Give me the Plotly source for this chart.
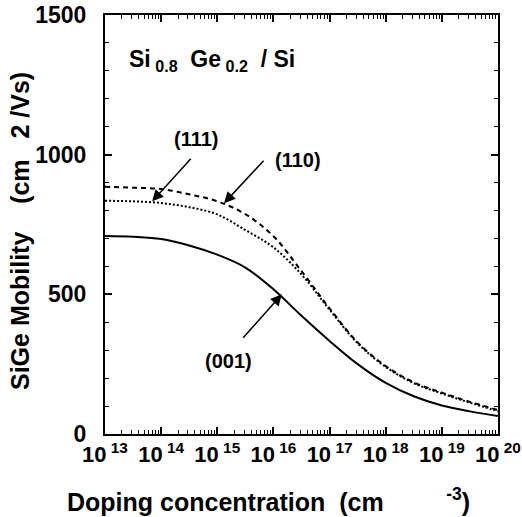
import plotly.graph_objects as go

# log10 of doping concentration (cm^-3)
log_doping = [13, 13.5, 14, 14.5, 15, 15.5, 16, 16.5, 17, 17.5, 18, 18.5, 19, 19.5, 20]
mob_001 = [709, 706, 698, 675, 642, 596, 518, 423, 333, 250, 183, 135, 102, 81, 64]
mob_110 = [885, 882, 877, 858, 833, 787, 708, 583, 450, 328, 243, 185, 148, 115, 86]
mob_111 = [835, 833, 827, 812, 786, 730, 668, 571, 445, 325, 240, 182, 145, 112, 82]

x_tick_exps = [13, 14, 15, 16, 17, 18, 19, 20]
y_tick_vals = [0, 500, 1000, 1500]

doping = [10.0 ** v for v in log_doping]
FONT = "Liberation Sans, Arial, Helvetica, sans-serif"
NB = "\u00a0"

fig = go.Figure()
fig.add_trace(go.Scatter(x=doping, y=mob_001, mode="lines", line=dict(color="black", width=2, shape="spline")))
fig.add_trace(go.Scatter(x=doping, y=mob_111, mode="lines", line=dict(color="black", width=2, dash="2px,2px", shape="spline")))
fig.add_trace(go.Scatter(x=doping, y=mob_110, mode="lines", line=dict(color="black", width=2, dash="5px,4px", shape="spline")))

minor_x = [m * 10.0 ** e for e in x_tick_exps[:-1] for m in range(2, 10)]

fig.update_xaxes(
    type="log", range=[13, 20], automargin=False,
    tickvals=[10.0 ** e for e in x_tick_exps],
    ticktext=[f"10<sup> {e}</sup>" for e in x_tick_exps],
    ticks="inside", ticklen=7, tickwidth=1.5, tickcolor="black",
    minor=dict(tickvals=minor_x, ticks="inside", ticklen=4, tickwidth=1, tickcolor="black"),
    showline=True, linewidth=2, linecolor="black", mirror="ticks",
    showgrid=False, zeroline=False,
    tickfont=dict(family=FONT, size=22, color="black", weight="bold"),
)
fig.update_yaxes(
    range=[0, 1500], automargin=False,
    tickvals=y_tick_vals,
    ticks="inside", ticklen=7, tickwidth=1.5, tickcolor="black",
    minor=dict(dtick=100, ticks="inside", ticklen=4, tickwidth=1, tickcolor="black"),
    showline=True, linewidth=2, linecolor="black", mirror="ticks",
    showgrid=False, zeroline=False, ticklabelstandoff=12,
    tickfont=dict(family=FONT, size=23, color="black", weight="bold"),
)

ann_font = dict(family=FONT, size=20, color="black", weight="bold")
big_font = dict(family=FONT, size=23, color="black", weight="bold")
title_font = dict(family=FONT, size=25, color="black", weight="bold")
annotations = [
    dict(text=f"Si<sub>{NB}0.8</sub>{NB}{NB}Ge<sub>{NB}0.2</sub>{NB}{NB}/ Si", xref="paper", yref="paper",
         x=(127 - 105) / 393, y=(434 - 60) / 419, xanchor="left", yanchor="middle",
         showarrow=False, font=big_font),
    dict(text="(111)", xref="x", yref="y", x=13.0 + (196 - 105) / 56.14, y=(434 - 140) / 139 * 500,
         showarrow=False, font=ann_font),
    dict(text="(110)", xref="x", yref="y", x=13.0 + (298 - 105) / 56.14, y=(434 - 161) / 139 * 500,
         showarrow=False, font=ann_font),
    dict(text="(001)", xref="x", yref="y", x=13.0 + (228 - 105) / 56.14, y=(434 - 361) / 139 * 500,
         showarrow=False, font=ann_font),
    dict(text="", xref="x", yref="y", x=13.84, y=833, ax=40, ay=-44, showarrow=True,
         arrowhead=2, arrowsize=1.5, arrowwidth=1.5, arrowcolor="black"),
    dict(text="", xref="x", yref="y", x=15.12, y=826, ax=41, ay=-44, showarrow=True,
         arrowhead=2, arrowsize=1.5, arrowwidth=1.5, arrowcolor="black"),
    dict(text="", xref="x", yref="y", x=16.15, y=500, ax=-40, ay=45, showarrow=True,
         arrowhead=2, arrowsize=1.5, arrowwidth=1.5, arrowcolor="black"),
    dict(text="Doping concentration" + NB * 2 + "(cm" + NB * 9 + "<sup>-3</sup>)",
         xref="paper", yref="paper", x=(65 - 105) / 393, y=(434 - 500) / 419,
         xanchor="left", yanchor="middle", showarrow=False, font=title_font),
    dict(text="SiGe Mobility" + NB * 4 + "(cm" + NB * 3 + "2 /Vs)", xref="paper", yref="paper",
         x=(20 - 105) / 393, y=(434 - 231) / 419, xanchor="center", yanchor="middle",
         textangle=-90, showarrow=False, font=title_font),
]

fig.update_layout(
    width=522, height=517,
    margin=dict(l=105, r=24, t=15, b=83),
    paper_bgcolor="white", plot_bgcolor="white",
    showlegend=False,
    annotations=annotations,
    font=dict(family=FONT, color="black"),
)

fig.write_html("out.html")
